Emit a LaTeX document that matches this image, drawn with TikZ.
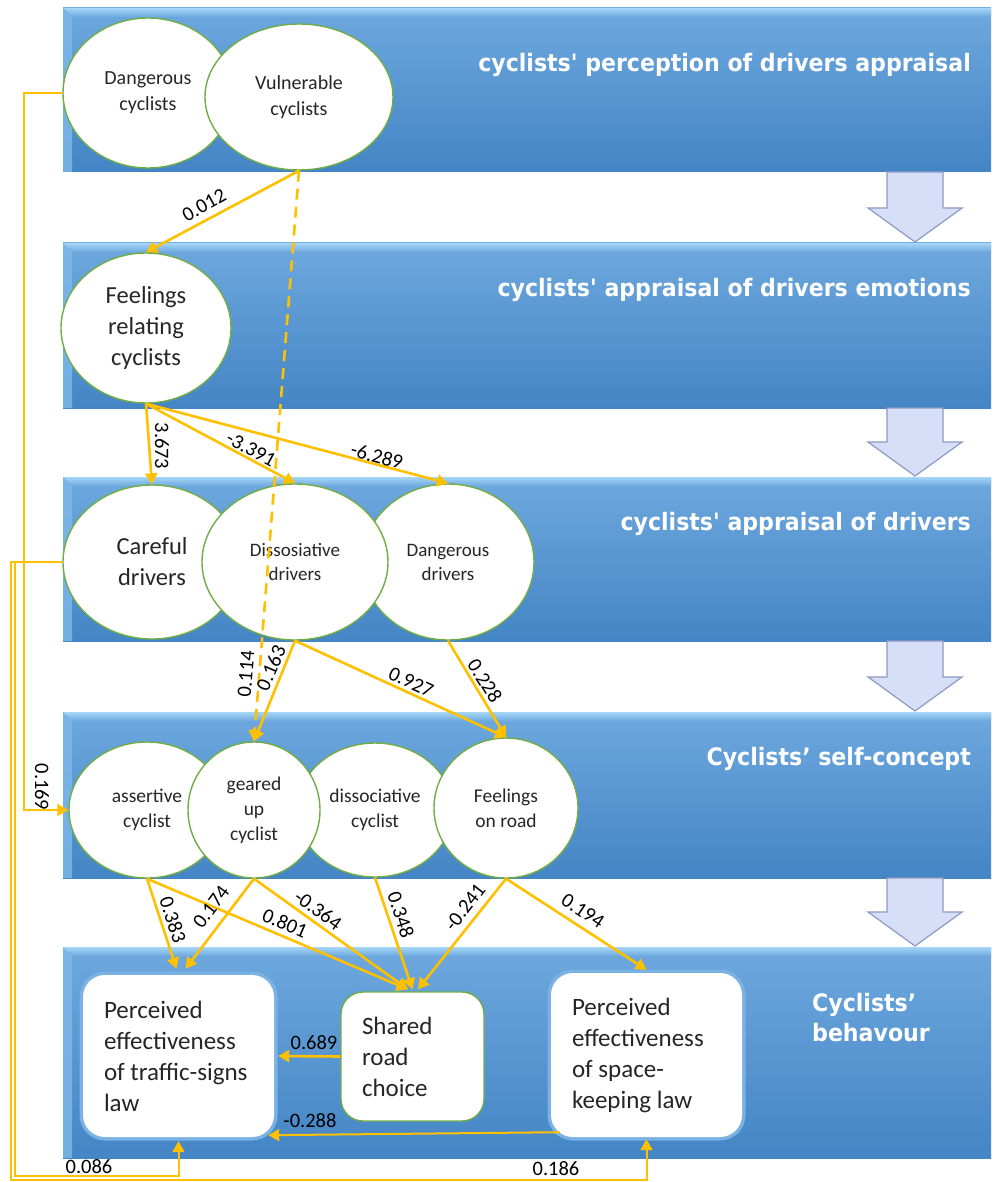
\documentclass[tikz,border=0pt]{standalone}
\usepackage{fontspec}
\setmainfont{Carlito}
\newfontfamily\titlefont{DejaVu Sans}[FakeStretch=0.92]
\usetikzlibrary{shapes.geometric,arrows.meta}
\definecolor{gold}{HTML}{FFC000}
\definecolor{bandtop}{HTML}{6EA8DE}
\definecolor{bandbot}{HTML}{4485C5}
\definecolor{bevel}{HTML}{A6D6F7}
\definecolor{bevelside}{HTML}{7DB9EA}
\definecolor{ellgreen}{HTML}{70AD47}
\definecolor{darrowfill}{HTML}{D6DFF7}
\definecolor{darrowline}{HTML}{8D9BC3}
\definecolor{halo}{HTML}{7AB2E4}
\definecolor{txt}{HTML}{262626}
\tikzset{
  ell/.style={ellipse, draw=ellgreen, line width=1.4pt, fill=white, inner sep=0pt, align=center, text=txt},
  wbox/.style={rectangle, rounded corners=22pt, fill=white, inner xsep=21pt, inner ysep=0pt, align=flush left, text=txt, font=\fontsize{25}{31}\selectfont},
  conn/.style={draw=gold, line width=2.6pt, -{Triangle[length=11pt,width=12pt]}},
  loopc/.style={draw=gold, line width=2pt, -{Triangle[length=11pt,width=12pt]}},
  dashc/.style={conn, dash pattern=on 11pt off 7pt},
  coef/.style={font=\fontsize{20.5}{24}\selectfont, inner sep=0pt, text=black},
  bandtitle/.style={font=\titlefont\bfseries\fontsize{24}{30}\selectfont, text=white, inner sep=0pt},
  downarrow/.style={fill=darrowfill, draw=darrowline, line width=1.2pt, line join=miter}
}
\begin{document}
\begin{tikzpicture}[x=1pt,y=-1pt]
\useasboundingbox (0,0) rectangle (993,1182);
\fill[white] (0,0) rectangle (993,1182);
% bands
\foreach \t/\b in {8/172, 243/408, 477/641, 712/878, 947/1158}{
  \shade[top color=bandtop, bottom color=bandbot] (63,\t) rectangle (991,\b);
  \shade[top color=bevel, bottom color=bandtop] (63,\t) -- (991,\t) -- (991,\t+9) -- (72,\t+9) -- cycle;
  \fill[bevelside, opacity=0.8] (63,\t) -- (72,\t+9) -- (72,\b) -- (63,\b) -- cycle;
}
% down arrows
\foreach \a/\b in {172/243, 408/477, 641/712, 878/947}{
  \filldraw[downarrow] (887,\a) -- (943,\a) -- (943,\b-35) -- (962,\b-35) -- (915,\b-1) -- (868,\b-35) -- (887,\b-35) -- cycle;
}
% titles
\node[bandtitle, anchor=base east] (t1) at (971,72) {cyclists' perception of drivers appraisal};
\node[bandtitle, anchor=base east] (t2) at (971,296) {cyclists' appraisal of drivers emotions};
\node[bandtitle, anchor=base east] (t3) at (971,530) {cyclists' appraisal of drivers};
\node[bandtitle, anchor=base east] (t4) at (971,765) {Cyclists’ self-concept};
\node[bandtitle, anchor=west, align=left] (t5) at (812,1018) {Cyclists’\\behavour};
% band 1
\node[ell, minimum width=170pt, minimum height=150pt, font=\fontsize{20}{26}\selectfont] (dcyc) at (148,93) {Dangerous\\cyclists};
\node[ell, minimum width=188pt, minimum height=146pt, font=\fontsize{20}{26}\selectfont] (vcyc) at (299,97) {Vulnerable\\cyclists};
% band 2
\node[ell, minimum width=170pt, minimum height=150pt, font=\fontsize{24.5}{31}\selectfont] (feel) at (146,328) {Feelings\\relating\\cyclists};
% band 3
\node[ell, minimum width=178pt, minimum height=154pt, font=\fontsize{24.5}{31}\selectfont] (care) at (152,562) {Careful\\drivers};
\node[ell, minimum width=172pt, minimum height=156pt, font=\fontsize{19}{24}\selectfont] (dand) at (448,562) {Dangerous\\drivers};
\node[ell, minimum width=186pt, minimum height=156pt, font=\fontsize{19}{24}\selectfont] (diss) at (295,562) {Dissosiative\\drivers};
% band 4
\node[ell, minimum width=156pt, minimum height=136pt, font=\fontsize{19.5}{25}\selectfont] (asrt) at (147,810) {assertive\\cyclist};
\node[ell, minimum width=156pt, minimum height=134pt, font=\fontsize{19.5}{25}\selectfont] (dcy2) at (375,810) {dissociative\\cyclist};
\node[ell, minimum width=132pt, minimum height=136pt, font=\fontsize{19.5}{25}\selectfont] (gear) at (254,810) {geared\\up\\cyclist};
\node[ell, minimum width=144pt, minimum height=140pt, font=\fontsize{19.5}{25}\selectfont] (froad) at (506,808) {Feelings\\on road};
% band 5
\node[wbox, preaction={draw=halo, line width=7pt}, text width=149pt, minimum height=162pt] (traffic) at (178.5,1056) {Perceived\\effectiveness\\of traffic-signs\\law};
\node[wbox, draw=ellgreen, line width=1.4pt, text width=101pt, minimum height=129pt] (shared) at (412.5,1056.5) {Shared\\road\\choice};
\node[wbox, preaction={draw=halo, line width=7pt}, text width=149pt, minimum height=164pt] (space) at (646.5,1055) {Perceived\\effectiveness\\of space-\\keeping law};
% connectors
\draw[conn] (vcyc.south) -- (feel.north);
\draw[dashc] (vcyc.south) -- (gear.north);
\draw[conn] (feel.south) -- (care.north);
\draw[conn] (feel.south) -- (diss.north);
\draw[conn] (feel.south) -- (dand.north);
\draw[conn] (diss.south) -- (gear.north);
\draw[conn] (diss.south) -- (froad.north);
\draw[conn] (dand.south) -- (froad.north);
\draw[conn] (asrt.south) -- ([xshift=-2pt,yshift=6pt]traffic.north);
\draw[conn] (asrt.south) -- ([xshift=-4.5pt,yshift=2pt]shared.north);
\draw[conn] (gear.south) -- ([xshift=7pt,yshift=6pt]traffic.north);
\draw[conn] (gear.south) -- ([xshift=-4.5pt,yshift=2pt]shared.north);
\draw[conn] (dcy2.south) -- ([yshift=2pt]shared.north);
\draw[conn] (froad.south) -- ([xshift=5.5pt,yshift=2pt]shared.north);
\draw[conn] (froad.south) -- ([yshift=3pt]space.north);
\draw[conn] (shared.west) -- ([xshift=4pt]traffic.east);
\draw[loopc] ([xshift=9pt,yshift=5pt]space.south west) -- ([xshift=-6pt,yshift=2pt]traffic.south east);
\draw[loopc] (dcyc.west) -- ++(-38,0) |- (asrt.west);
\draw[loopc] (care.west) -| (11,1180) -| ([yshift=-2pt]space.south);
\draw[loopc] (care.west) -| (15,1176) -| ([yshift=-4pt]traffic.south);
% coefficient labels
\node[coef, rotate=29] (l1) at (204,205) {0.012};
\node[coef, rotate=85.5] (l2) at (246,674) {0.114};
\node[coef, rotate=-90] (l3) at (162,446) {3.673};
\node[coef, rotate=-28.5] (l4) at (251,449) {-3.391};
\node[coef, rotate=-15.3] (l5) at (377,456) {-6.289};
\node[coef, rotate=66.5] (l6) at (271,668) {0.163};
\node[coef, rotate=-24.8] (l7) at (411,682) {0.927};
\node[coef, rotate=-57.6] (l8) at (485,681) {0.228};
\node[coef, rotate=-90] (l9) at (42,787) {0.169};
\node[coef, rotate=-71.7] (l10) at (173,920) {0.383};
\node[coef, rotate=53.2] (l11) at (211,907) {0.174};
\node[coef, rotate=-23.4] (l12) at (285,923) {0.801};
\node[coef, rotate=-35.9] (l13) at (318,910) {-0.364};
\node[coef, rotate=-71.9] (l14) at (401,915) {0.348};
\node[coef, rotate=52.4] (l15) at (465,907) {-0.241};
\node[coef, rotate=-33.4] (l16) at (583,911) {0.194};
\node[coef] (l17) at (314,1043) {0.689};
\node[coef] (l18) at (310,1121) {-0.288};
\node[coef] (l19) at (89,1167) {0.086};
\node[coef] (l20) at (556,1169) {0.186};
\end{tikzpicture}
\end{document}
